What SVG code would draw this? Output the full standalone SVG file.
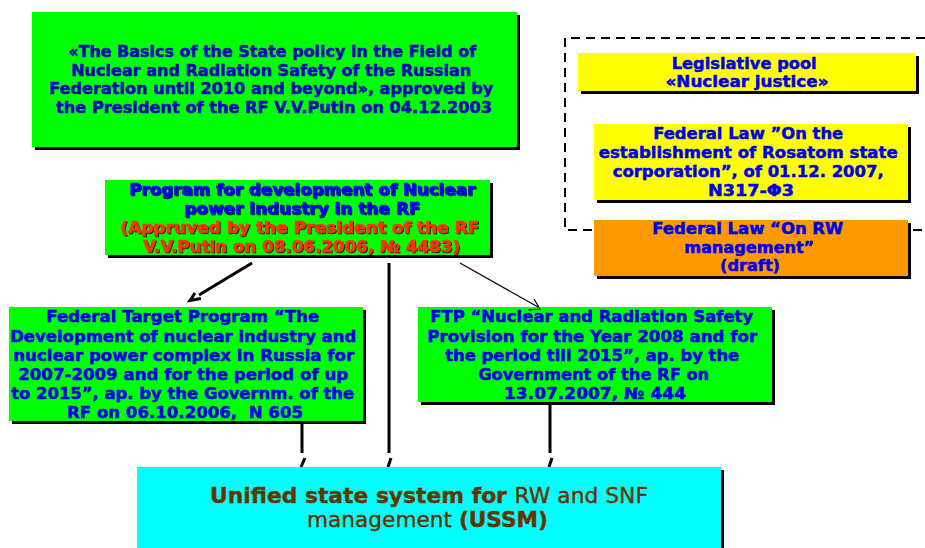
<svg xmlns="http://www.w3.org/2000/svg" width="925" height="548" viewBox="0 0 925 548">
<style>
.sh{fill:#000}
.g{fill:#00FF00}
.y{fill:#FFFF00}
.o{fill:#FF9900}
.c{fill:#00FFFF}
.t{font-family:"DejaVu Sans","Liberation Sans",sans-serif;font-weight:bold;font-size:16px;text-anchor:middle;stroke-width:0.5}
.b1{fill:#0808B8;stroke:#0808B8}
.b2{fill:#0000E6;stroke:#0000E6}
.pb{fill:#0000FF;stroke:#0000FF;filter:url(#ts)}
.pr{fill:#FF3300;stroke:#FF3300;filter:url(#ts)}
.u{font-family:"DejaVu Sans","Liberation Sans",sans-serif;font-size:22px;text-anchor:middle;fill:#663300;stroke:#663300;stroke-width:0.4}
.k{stroke:#000;stroke-width:3;fill:none}
.thin{stroke:#000;stroke-width:1.2;fill:none}
.dash{stroke:#000;stroke-width:2;fill:none;stroke-dasharray:9 6}
</style>
<defs>
<filter id="ts" x="-5%" y="-20%" width="110%" height="140%">
<feDropShadow dx="1" dy="1" stdDeviation="0.2" flood-color="#000033" flood-opacity="0.9"/>
</filter>
</defs>

<g id="legislative-frame">
<path class="dash" d="M925,38 H565 V230 H925"/>
</g>

<g id="basics">
<rect class="sh" x="35" y="15" width="485" height="135"/>
<rect class="g" x="32" y="12" width="485" height="135"/>
<text class="t b1">
<tspan x="275" y="57" textLength="408" lengthAdjust="spacingAndGlyphs">«The Basics of the State policy in the Field of</tspan>
<tspan x="274" y="75.7" textLength="400" lengthAdjust="spacingAndGlyphs">Nuclear and Radiation Safety of the Russian</tspan>
<tspan x="274" y="94.4" textLength="444" lengthAdjust="spacingAndGlyphs">Federation until 2010 and beyond», approved by</tspan>
<tspan x="274" y="113" textLength="436" lengthAdjust="spacingAndGlyphs">the President of the RF V.V.Putin on 04.12.2003</tspan>
</text>
</g>

<g id="pool">
<rect class="sh" x="581" y="56" width="338" height="38"/>
<rect class="y" x="578" y="53" width="338" height="38"/>
<text class="t b2">
<tspan x="747" y="69.3" textLength="145" lengthAdjust="spacingAndGlyphs">Legislative pool</tspan>
<tspan x="747" y="86.7" textLength="163" lengthAdjust="spacingAndGlyphs">«Nuclear justice»</tspan>
</text>
</g>

<g id="rosatom-law">
<rect class="sh" x="597" y="127" width="314" height="76"/>
<rect class="y" x="594" y="124" width="314" height="76"/>
<text class="t b2">
<tspan x="751" y="139" textLength="190" lengthAdjust="spacingAndGlyphs">Federal Law ”On the</tspan>
<tspan x="751" y="158.3" textLength="299" lengthAdjust="spacingAndGlyphs">establishment of Rosatom state</tspan>
<tspan x="751" y="177.3" textLength="271" lengthAdjust="spacingAndGlyphs">corporation”, of 01.12. 2007,</tspan>
<tspan x="751" y="195.7" textLength="86" lengthAdjust="spacingAndGlyphs">N317-Φ3</tspan>
</text>
</g>

<g id="rw-law">
<rect class="sh" x="597" y="223" width="314" height="56"/>
<rect class="o" x="594" y="220" width="314" height="56"/>
<text class="t b2">
<tspan x="750.5" y="234.3" textLength="191" lengthAdjust="spacingAndGlyphs">Federal Law “On RW</tspan>
<tspan x="752" y="253.3" textLength="130" lengthAdjust="spacingAndGlyphs">management”</tspan>
<tspan x="750" y="270.7" textLength="60" lengthAdjust="spacingAndGlyphs">(draft)</tspan>
</text>
</g>

<g id="program">
<rect class="sh" x="108" y="183" width="385" height="75"/>
<rect class="g" x="105" y="180" width="385" height="75"/>
<text class="t">
<tspan class="pb" x="305" y="195" textLength="346" lengthAdjust="spacingAndGlyphs">Program for development of Nuclear</tspan>
<tspan class="pb" x="305" y="214" textLength="236" lengthAdjust="spacingAndGlyphs">power industry in the RF</tspan>
<tspan class="pr" x="302.5" y="233" textLength="359" lengthAdjust="spacingAndGlyphs">(Appruved by the President of the RF</tspan>
<tspan class="pr" x="301.5" y="251.7" textLength="317" lengthAdjust="spacingAndGlyphs">V.V.Putin on 08.06.2006, № 4483)</tspan>
</text>
</g>

<g id="ftp-development">
<rect class="sh" x="12" y="310" width="354" height="114"/>
<rect class="g" x="9" y="307" width="354" height="114"/>
<text class="t b2">
<tspan x="185.5" y="322.3" textLength="273" lengthAdjust="spacingAndGlyphs">Federal Target Program “The</tspan>
<tspan x="186" y="341.7" textLength="346" lengthAdjust="spacingAndGlyphs">Development of nuclear industry and</tspan>
<tspan x="186.5" y="360.7" textLength="341" lengthAdjust="spacingAndGlyphs">nuclear power complex in Russia for</tspan>
<tspan x="186" y="380" textLength="330" lengthAdjust="spacingAndGlyphs">2007-2009 and for the period of up</tspan>
<tspan x="185.5" y="399" textLength="343" lengthAdjust="spacingAndGlyphs">to 2015”, ap. by the Governm. of the</tspan>
<tspan x="185" y="417.7" textLength="236" lengthAdjust="spacingAndGlyphs" xml:space="preserve">RF on 06.10.2006,  N 605</tspan>
</text>
</g>

<g id="ftp-safety">
<rect class="sh" x="421" y="310" width="354" height="95"/>
<rect class="g" x="418" y="307" width="354" height="95"/>
<text class="t b2">
<tspan x="594.5" y="322.3" textLength="323" lengthAdjust="spacingAndGlyphs">FTP “Nuclear and Radiation Safety</tspan>
<tspan x="595" y="341.7" textLength="330" lengthAdjust="spacingAndGlyphs">Provision for the Year 2008 and for</tspan>
<tspan x="595" y="360.7" textLength="294" lengthAdjust="spacingAndGlyphs">the period till 2015”, ap. by the</tspan>
<tspan x="596.5" y="380" textLength="231" lengthAdjust="spacingAndGlyphs">Government of the RF on</tspan>
<tspan x="595" y="398.5" textLength="182" lengthAdjust="spacingAndGlyphs">13.07.2007, № 444</tspan>
</text>
</g>

<g id="connectors">
<path class="k" d="M252,263 L199,295"/>
<path class="k" stroke-width="2.5" d="M201,298.5 L190,300.5 L195,293"/>
<path class="thin" d="M460,263 L538,307"/>
<path class="thin" stroke="#330000" stroke-width="1.5" d="M534,299 L540,309 L528,310"/>
<path class="k" d="M302,421 V453"/>
<path class="k" d="M305,458 L301,467"/>
<path class="k" d="M389,263 V453"/>
<path class="k" d="M391,458 L388,467"/>
<path class="k" d="M550,405 V453"/>
<path class="k" d="M552,458 L549,467"/>
</g>

<g id="ussm">
<rect class="sh" x="140" y="470" width="584" height="78"/>
<rect class="c" x="137" y="467" width="584" height="81"/>
<text class="u" x="429" y="503" textLength="438" lengthAdjust="spacingAndGlyphs"><tspan font-weight="bold">Unified state system for </tspan><tspan>RW and SNF</tspan></text>
<text class="u" x="427.5" y="527" textLength="241" lengthAdjust="spacingAndGlyphs"><tspan>management </tspan><tspan font-weight="bold">(USSM)</tspan></text>
</g>
</svg>
